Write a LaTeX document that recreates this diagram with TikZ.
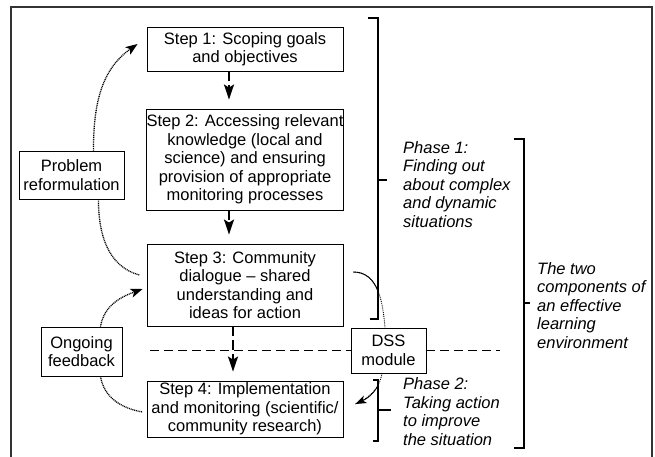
\documentclass[tikz,border=0pt]{standalone}
\usepackage{fontspec}
\setmainfont{Liberation Sans}
\usetikzlibrary{arrows.meta,calc}
\begin{document}
\begin{tikzpicture}[x=1pt,y=-1pt,
  every node/.style={font=\fontsize{16.5}{18.5}\selectfont, inner sep=0pt, align=center},
  stepbox/.style={draw, line width=0.9pt, minimum width=196pt},
  sidebox/.style={draw, line width=0.9pt},
  phasetext/.style={font=\fontsize{16.5}{18.5}\selectfont\itshape, align=left, anchor=west},
  flowarrow/.style={line width=2pt, dash pattern=on 10pt off 4pt, shorten >=9pt,
    -{Stealth[length=15pt,width=10pt,inset=3pt]}},
  loopline/.style={line width=1.3pt, dash pattern=on 1pt off 0.8pt},
  looparrow/.style={loopline, -{Stealth[length=12pt,width=9pt,inset=3pt]}},
  bracket/.style={line width=1.3pt},
  divider/.style={line width=1.3pt, dash pattern=on 9pt off 5pt},
]
\useasboundingbox (0,0) rectangle (655,456);
% frame
\draw[line width=1.3pt, black!80] (11,470) -- (11,7) -- (652,7) -- (652,470);

% step boxes
\node[stepbox, minimum height=44pt] (s1) at (245,49) {Step 1: Scoping goals\\and objectives};
\node[stepbox, minimum height=101pt] (s2) at (245,159.5) {Step 2: Accessing relevant\\knowledge (local and\\science) and ensuring\\provision of appropriate\\monitoring processes};
\node[stepbox, minimum height=82pt] (s3) at (245,285) {Step 3: Community\\dialogue -- shared\\understanding and\\ideas for action};
\node[stepbox, minimum height=56pt] (s4) at (245,409) {Step 4: Implementation\\and monitoring (scientific/\\community research)};

% side boxes
\node[sidebox, minimum width=105pt, minimum height=48pt] (pr) at (71.5,175) {Problem\\reformulation};
\node[sidebox, minimum width=81pt, minimum height=49pt] (of) at (81.5,351.5) {Ongoing\\feedback};
\node[sidebox, minimum width=75pt, minimum height=45pt] (dss) at (388.5,350.5) {DSS\\module};

% divider
\coordinate (hl) at (150,350.5);
\coordinate (hr) at (500,350.5);
\draw[divider] (hl) -- (dss.west);
\draw[divider] (dss.east) -- (hr);

% flow arrows
\draw[flowarrow] ($(s1.south)+(-16,0)$) -- ($(s2.north)+(-16,0)$);
\draw[flowarrow] ($(s2.south)+(-16,0)$) -- ($(s3.north)+(-16,0)$);
\draw[flowarrow] ($(s3.south)+(-12,0)$) -- ($(s4.north)+(-12,0)$);

% problem reformulation loop
\draw[looparrow] ($(pr.north east)+(-31,0)$) to[out=90, in=215] ($(s1.west)+(-9,-5)$);
\draw[loopline] ($(pr.south east)+(-26,0)$) to[out=-90, in=165] ($(s3.west)+(-7,-10)$);

% ongoing feedback loop
\draw[looparrow] ($(of.north east)+(-22,0)$) to[out=80, in=200] ($(s3.west)+(-4,4)$);
\draw[loopline] ($(of.south east)+(-22,0)$) to[out=-80, in=170] ($(s4.west)+(-4,3)$);

% DSS links
\draw[line width=0.9pt, densely dotted] ($(s3.east)+(10,-13)$) to[out=0, in=95] ($(dss.north)+(-3.5,0)$);
\draw[line width=0.9pt, dash pattern=on 32pt off 100pt] ($(s3.east)+(10,-13)$) to[out=0, in=95] ($(dss.north)+(-3.5,0)$);
\draw[line width=0.9pt, densely dotted] ($(dss.south)+(-6.5,0)$) to[out=-100, in=25] ($(s4.east)+(12,-5)$);
\draw[line width=0.9pt, dash pattern=on 60pt off 12pt, dash phase=60pt,
  -{Stealth[length=11pt,width=8pt,inset=3pt]}] ($(dss.south)+(-6.5,0)$) to[out=-100, in=25] ($(s4.east)+(12,-5)$);

% brackets
\draw[bracket] (368,18) -- (378,18) -- (378,319) -- (370,319);
\draw[bracket] (378,180) -- (387,180);
\draw[bracket] (373,380) -- (378,380) -- (378,441) -- (373,441);
\draw[bracket] (378,410) -- (391,410);
\draw[bracket] (514,139) -- (524,139) -- (524,448) -- (514,448);
\draw[bracket] (524,303) -- (530,303);

% phase texts
\node[phasetext] (p1) at (403,184.5) {Phase 1:\\Finding out\\about complex\\and dynamic\\situations};
\node[phasetext] (p2) at (403,411.5) {Phase 2:\\Taking action\\to improve\\the situation};
\node[phasetext] (pc) at (537,305.5) {The two\\components of\\an effective\\learning\\environment};
\end{tikzpicture}
\end{document}
